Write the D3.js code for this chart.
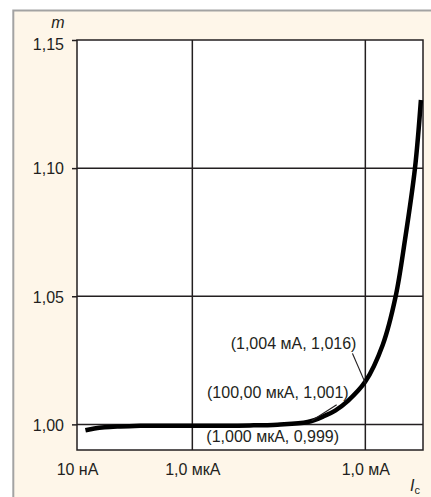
<!DOCTYPE html>
<html><head><meta charset="utf-8">
<script src="https://cdnjs.cloudflare.com/ajax/libs/d3/7.8.5/d3.min.js"></script>
<style>
html,body{margin:0;padding:0;background:#fff;}
svg{display:block;font-family:"Liberation Sans",Arial,sans-serif;}
</style></head><body>
<script>
// ---- data ----
const currents = [1.4e-8, 2e-8, 3e-8, 5e-8, 1e-7, 2e-7, 1e-6, 1e-5, 3e-5, 1e-4, 2e-4, 3e-4, 5e-4, 1e-3, 2e-3, 3.36e-3, 4.87e-3, 7.26e-3, 9.2e-3];
const mValues  = [0.9977, 0.9984, 0.9989, 0.9992, 0.9994, 0.9995, 0.9995, 0.9996, 0.9999, 1.0009, 1.0034, 1.0054, 1.0092, 1.0167, 1.031, 1.050, 1.072, 1.100, 1.1266];
const yTicks = [1.00, 1.05, 1.10, 1.15];
const xTickValues = [1e-8, 1e-6, 1e-3];
const xTickLabels = ["10 нА", "1,0 мкА", "1,0 мА"];
const xGrid = [1e-6, 1e-3];
const yGrid = [1.00, 1.05, 1.10];
const annotations = [
  {I: 1.004e-3, m: 1.016, text: "(1,004 мА, 1,016)"},
  {I: 1e-4, m: 1.001, text: "(100,00 мкА, 1,001)"},
  {I: 1e-6, m: 0.999, text: "(1,000 мкА, 0,999)"}
];

const W = 431, H = 497;
const FS = 16;
const svg = d3.select("body").append("svg").attr("width", W).attr("height", H);

// frame background
svg.append("rect").attr("x", 13.3).attr("y", 10.5).attr("width", W).attr("height", H)
  .attr("fill", "#fef6e9").attr("stroke", "#a3a3a3").attr("stroke-width", 2);

const x = d3.scaleLog().domain([1e-8, 1e-2]).range([77, 423]);
const y = d3.scaleLinear().domain([0.99, 1.15]).range([450, 40]);

// plot area
svg.append("rect").attr("x", 77).attr("y", 40).attr("width", 346).attr("height", 410)
  .attr("fill", "#fff");

const ink = "#231f20";
// grid
svg.append("g").selectAll("line").data(xGrid).join("line")
  .attr("x1", d => x(d)).attr("x2", d => x(d)).attr("y1", 40).attr("y2", 450)
  .attr("stroke", ink).attr("stroke-width", 1.5);
svg.append("g").selectAll("line").data(yGrid).join("line")
  .attr("x1", 77).attr("x2", 423).attr("y1", d => y(d)).attr("y2", d => y(d))
  .attr("stroke", ink).attr("stroke-width", 1.5);

// border
svg.append("rect").attr("x", 77).attr("y", 40).attr("width", 346).attr("height", 410)
  .attr("fill", "none").attr("stroke", ink).attr("stroke-width", 1.5);

// y axis
const loc = d3.formatLocale({decimal: ",", thousands: " ", grouping: [3], currency: ["", ""]});
const fmt = loc.format(".2f");
const yAxis = svg.append("g").attr("transform", "translate(77,0)")
  .call(d3.axisLeft(y).tickValues(yTicks).tickSize(5).tickPadding(8).tickFormat(fmt));
yAxis.select(".domain").remove();
yAxis.selectAll(".tick line").attr("stroke", ink).attr("stroke-width", 1.5);
yAxis.selectAll(".tick text").attr("font-size", FS).attr("fill", ink)
  .attr("font-family", "'Liberation Sans',Arial,sans-serif")
  .attr("dy", d => d === 1.15 ? "0.62em" : "0.36em");

// x axis
const xAxis = svg.append("g").attr("transform", "translate(0,450)")
  .call(d3.axisBottom(x).tickValues(xTickValues).tickSize(0).tickPadding(14)
    .tickFormat((d, i) => xTickLabels[i]));
xAxis.select(".domain").remove();
xAxis.selectAll(".tick text").attr("font-size", FS).attr("fill", ink)
  .attr("font-family", "'Liberation Sans',Arial,sans-serif");

// axis titles
svg.append("text").attr("x", 58).attr("y", 28).attr("text-anchor", "middle")
  .attr("font-size", FS).attr("font-style", "italic").attr("fill", ink).text("m");
const ic = svg.append("text").attr("x", 410).attr("y", 491).attr("font-size", FS)
  .attr("font-style", "italic").attr("fill", ink);
ic.append("tspan").text("I");
ic.append("tspan").attr("font-size", 11).attr("font-style", "normal").attr("dy", 3).text("c");

// curve
const pts = currents.map((c, i) => [c, mValues[i]]);
svg.append("path").datum(pts)
  .attr("d", d3.line().x(d => x(d[0])).y(d => y(d[1])).curve(d3.curveCatmullRom.alpha(0.5)))
  .attr("fill", "none").attr("stroke", "#000").attr("stroke-width", 4.5)
  .attr("stroke-linecap", "butt");

// annotations
const a0 = annotations[0], p0 = [x(a0.I), y(a0.m)];
svg.append("line").attr("x1", p0[0]).attr("y1", p0[1]).attr("x2", p0[0] - 13).attr("y2", p0[1] - 30)
  .attr("stroke", ink).attr("stroke-width", 1.2);
svg.append("text").attr("x", p0[0] - 9).attr("y", p0[1] - 34).attr("text-anchor", "end")
  .attr("font-size", FS).attr("fill", ink).text(a0.text);

const a1 = annotations[1], p1 = [x(a1.I), y(a1.m)];
svg.append("line").attr("x1", p1[0] + 4).attr("y1", p1[1] - 1).attr("x2", p1[0] + 29).attr("y2", p1[1] - 17)
  .attr("stroke", ink).attr("stroke-width", 1.2);
svg.append("text").attr("x", p1[0] + 41).attr("y", p1[1] - 24).attr("text-anchor", "end")
  .attr("font-size", FS).attr("fill", ink).text(a1.text);

const a2 = annotations[2], p2 = [x(a2.I), y(a2.m)];
svg.append("text").attr("x", p2[0] + 14).attr("y", p2[1] + 15).attr("text-anchor", "start")
  .attr("font-size", FS).attr("fill", ink).text(a2.text);
</script>
</body></html>
